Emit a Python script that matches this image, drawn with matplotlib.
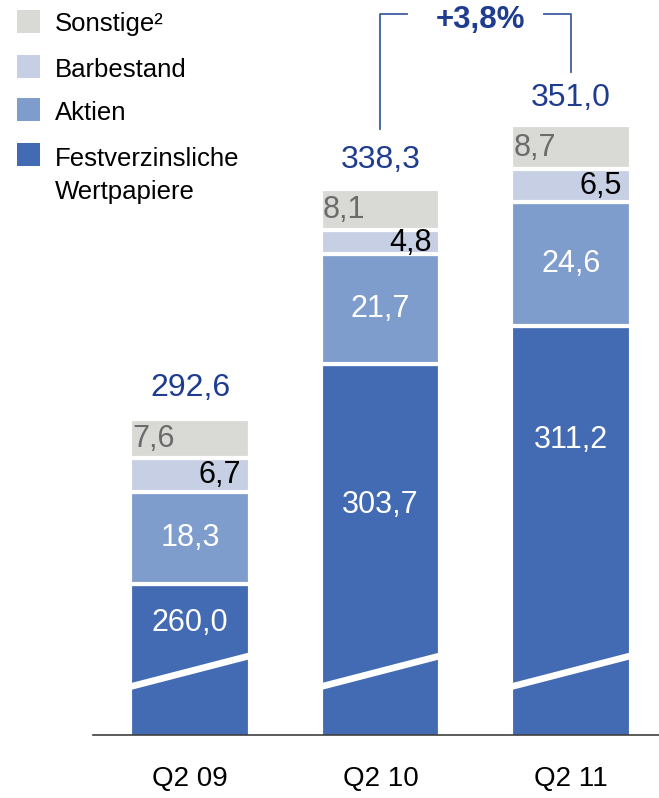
import matplotlib
matplotlib.use("Agg")
import matplotlib.pyplot as plt
from matplotlib.patches import Rectangle

plt.rcParams['font.family'] = ['Liberation Sans', 'DejaVu Sans']

# ---- data ----
categories = ["Q2 09", "Q2 10", "Q2 11"]
festverzinsliche = [260.0, 303.7, 311.2]
aktien = [18.3, 21.7, 24.6]
barbestand = [6.7, 4.8, 6.5]
sonstige = [7.6, 8.1, 8.7]
totals = [292.6, 338.3, 351.0]
change_label = "+3,8%"
legend_labels = ["Sonstige²", "Barbestand", "Aktien", "Festverzinsliche\nWertpapiere"]

# ---- style ----
c_fest = "#436BB3"
c_akt = "#7F9DCC"
c_bar = "#C6CFE3"
c_son = "#D9D9D5"
c_total = "#1F3C90"
c_line = "#3F5FA3"
y_base = 230.0          # broken axis base
fest_label_frac = [0.74, 0.62, 0.72]
total_offsets = [17, 15, 14]

W, H = 659, 798
fig = plt.figure(figsize=(W / 100, H / 100), dpi=100)
ax = fig.add_axes([93 / W, (H - 735) / H, (W - 93) / W, 735 / H])

def fmt(v):
    return f"{v:.1f}".replace(".", ",")

x = list(range(len(categories)))
bw = 0.625
ekw = dict(edgecolor="white", linewidth=3, width=bw)

ax.bar(x, festverzinsliche, color=c_fest, **ekw)
b1 = festverzinsliche
ax.bar(x, aktien, bottom=b1, color=c_akt, **ekw)
b2 = [a + b for a, b in zip(b1, aktien)]
ax.bar(x, barbestand, bottom=b2, color=c_bar, **ekw)
b3 = [a + b for a, b in zip(b2, barbestand)]
ax.bar(x, sonstige, bottom=b3, color=c_son, **ekw)

ax.set_xlim(-0.509, 2.462)
ax.set_ylim(y_base, y_base + 735 / 5.04)

fs = 22
for i in range(3):
    # break line
    ax.plot([i - bw / 2 - 0.02, i + bw / 2 + 0.02],
            [y_base + 9.4, y_base + 15.9], color="white", lw=4.8,
            solid_capstyle="butt", zorder=3)
    # fest label
    yf = y_base + (festverzinsliche[i] - y_base) * fest_label_frac[i]
    ax.text(i, yf, fmt(festverzinsliche[i]), color="white", fontsize=fs,
            ha="center", va="center", zorder=4)
    # aktien label
    ax.text(i, b1[i] + aktien[i] / 2, fmt(aktien[i]), color="white",
            fontsize=fs, ha="center", va="center", zorder=4)
    # barbestand label (right aligned)
    ax.text(i + bw / 2 - 0.045, b2[i] + barbestand[i] / 2 - 0.1,
            fmt(barbestand[i]), color="black", fontsize=fs,
            ha="right", va="center", zorder=4)
    # sonstige label (left aligned)
    ax.text(i - bw / 2 + 0.01, b3[i] + sonstige[i] / 2 - 0.1,
            fmt(sonstige[i]), color="#6B6B6B", fontsize=fs,
            ha="left", va="center", zorder=4)
    # total
    ax.annotate(fmt(totals[i]), (i, totals[i]), xytext=(0, total_offsets[i]),
                textcoords="offset points", ha="center", va="baseline",
                fontsize=fs + 1, color=c_total)

# bracket between Q2 10 and Q2 11
y_top = y_base + 721 / 5.04
xm = (x[1] + x[2]) / 2
ax.plot([x[1], x[1], xm - 0.36], [totals[1] + 11.9, y_top, y_top],
        color=c_line, lw=1.3, clip_on=False)
ax.plot([xm + 0.36, x[2], x[2]], [y_top, y_top, totals[2] + 10.5],
        color=c_line, lw=1.3, clip_on=False)
ax.text(xm + 0.025, y_top - 1.2, change_label, ha="center", va="center",
        fontsize=22.5, fontweight="bold", color=c_total)

# axes styling
for s in ["top", "right", "left"]:
    ax.spines[s].set_visible(False)
ax.spines["bottom"].set_color("#404040")
ax.spines["bottom"].set_linewidth(1.2)
ax.set_yticks([])
ax.set_xticks(x)
ax.set_xticklabels(categories, fontsize=20)
ax.tick_params(axis="x", length=0, pad=22)

# legend (manual)
leg_colors = [c_son, c_bar, c_akt, c_fest]
leg_sq_y = [10, 55, 98, 143]
for col, yy in zip(leg_colors, leg_sq_y):
    fig.patches.append(Rectangle((17 / W, 1 - (yy + 23) / H), 23 / W, 23 / H,
                                 transform=fig.transFigure, facecolor=col,
                                 edgecolor="none"))
leg_text_y = [24, 70, 113, 159]
for lab, yy in zip(legend_labels[:3], leg_text_y[:3]):
    fig.text(55 / W, 1 - yy / H, lab, fontsize=18.5, ha="left", va="center",
             color="black")
lab = legend_labels[3].split("\n")
fig.text(55 / W, 1 - leg_text_y[3] / H, lab[0], fontsize=18.5, ha="left", va="center")
fig.text(55 / W, 1 - (leg_text_y[3] + 33) / H, lab[1], fontsize=18.5, ha="left", va="center")

fig.savefig("out.png", dpi=100)
